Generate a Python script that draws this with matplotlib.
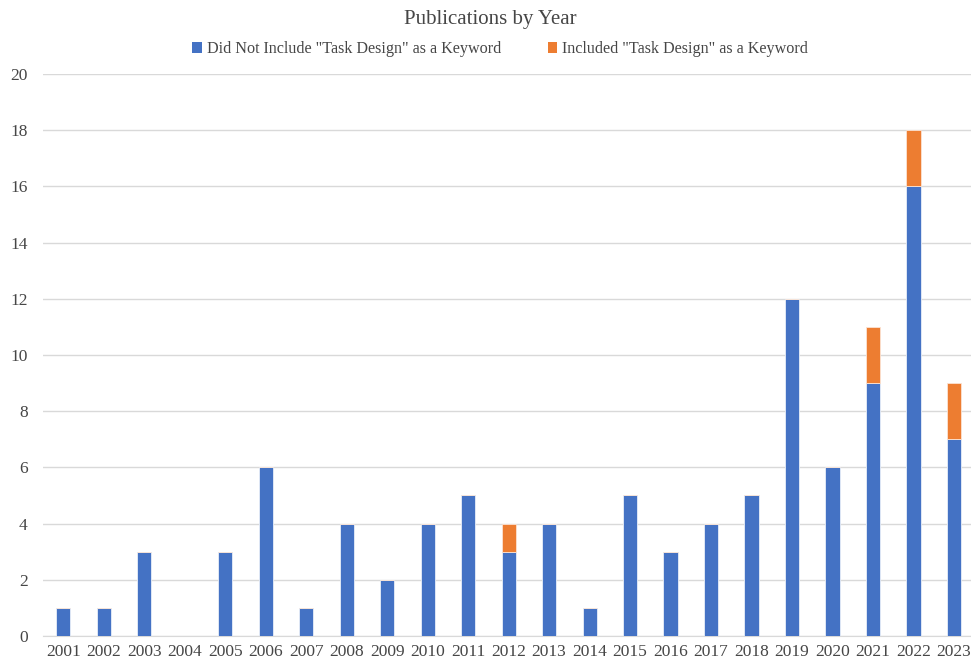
import numpy as np
import matplotlib.pyplot as plt

plt.rcParams['font.family'] = ['Liberation Serif', 'DejaVu Serif']

# Data
years = [str(y) for y in range(2001, 2024)]
without_kw = [1, 1, 3, 0, 3, 6, 1, 4, 2, 4, 5, 3, 4, 1, 5, 3, 4, 5, 12, 6, 9, 16, 7]
with_kw = [0, 0, 0, 0, 0, 0, 0, 0, 0, 0, 0, 1, 0, 0, 0, 0, 0, 0, 0, 0, 2, 2, 2]
yticks = list(range(0, 21, 2))

blue = '#4472C4'
orange = '#ED7D31'
text_color = '#464646'

fig = plt.figure(figsize=(9.71, 6.64), dpi=100)
ax = fig.add_axes([0.0443, 0.0422, 0.9557, 0.8464])

x = np.arange(len(years))
ax.bar(x, without_kw, width=0.35, color=blue, edgecolor='#e8eef8', linewidth=0.6, zorder=3,
       label='Did Not Include "Task Design" as a Keyword')
ax.bar(x, with_kw, width=0.35, bottom=without_kw, color=orange, edgecolor='#fbe3d3',
       linewidth=0.6, zorder=3, label='Included "Task Design" as a Keyword')

ax.set_xlim(-0.5, 22.42)
ax.set_ylim(0, 20)
ax.set_yticks(yticks)
ax.set_xticks(x)
ax.set_xticklabels(years)
ax.tick_params(axis='both', length=0, labelsize=12.5, colors=text_color)
ax.tick_params(axis='y', pad=11)
ax.tick_params(axis='x', pad=6)
ax.grid(axis='y', color='#D9D9D9', linewidth=1, zorder=0)
for s in ['top', 'right', 'left']:
    ax.spines[s].set_visible(False)
ax.spines['bottom'].set_color('#D9D9D9')

fig.text(0.505, 0.971, 'Publications by Year', ha='center', va='center',
         fontsize=15, color=text_color)
leg = fig.legend(loc='center', bbox_to_anchor=(0.515, 0.926), ncol=2, frameon=False,
                 fontsize=11.6, handlelength=0.6, handleheight=0.6, handletextpad=0.3,
                 columnspacing=2.9, labelcolor=text_color)
for h in leg.legend_handles:
    h.set_linewidth(0)

fig.savefig('out.png', dpi=100)
